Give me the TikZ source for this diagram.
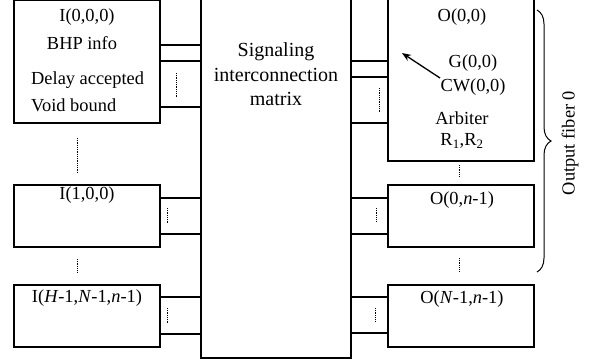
\documentclass[tikz,border=0pt]{standalone}
\usepackage{fontspec}
\setmainfont{Liberation Serif}
\usetikzlibrary{decorations.pathreplacing,arrows.meta}
\begin{document}
\begin{tikzpicture}[x=1pt,y=-1pt,
  box/.style={draw,line width=1.2pt,inner sep=0pt,minimum width=146pt},
  txt/.style={inner sep=0pt,font=\fontsize{18.4}{22}\selectfont},
  mtxt/.style={inner sep=0pt,align=center,font=\fontsize{20}{24.5}\selectfont},
  wire/.style={line width=1.2pt},
  dots/.style={line width=0.7pt,dash pattern=on 0.8pt off 1pt}]
\useasboundingbox (0,0) rectangle (590,364);
\clip (0,0) rectangle (590,364);
% boxes
\node[box,minimum height=122.5pt] (i0) at (87,61.75) {};
\node[box,minimum height=62pt] (i1) at (87,216) {};
\node[box,minimum height=62pt] (ih) at (87,316) {};
\node[draw,line width=1.2pt,inner sep=0pt,minimum width=150pt,minimum height=368pt] (mat) at (276,174) {};
\node[box,minimum height=171pt] (o0) at (461,75.5) {};
\node[box,minimum height=62pt] (on) at (461,216) {};
\node[box,minimum height=62pt] (oN) at (461,316) {};
% texts
\node[txt] (ti0) at (87,17) {I(0,0,0)};
\node[txt] (tbhp) at (82,43) {BHP info};
\node[txt,anchor=west] (tdel) at (31,80) {Delay accepted};
\node[txt,anchor=west] (tvoid) at (31,105) {Void bound};
\node[txt] (ti1) at (87,195) {I(1,0,0)};
\node[txt] (tih) at (87,298) {I(\textit{H}-1,\textit{N}-1,\textit{n}-1)};
\node[mtxt] (tmat) at (276,74.5) {Signaling\\interconnection\\matrix};
\node[txt] (to0) at (462,17) {O(0,0)};
\node[txt] (tg) at (473,63) {G(0,0)};
\node[txt] (tcw) at (473,87) {CW(0,0)};
\node[txt] (tarb) at (462,118) {Arbiter};
\node[txt] (tr) at (462,141) {R\textsubscript{1},R\textsubscript{2}};
\node[txt] (ton) at (462,200) {O(0,\textit{n}-1)};
\node[txt] (toN) at (462,299) {O(\textit{N}-1,\textit{n}-1)};
\node[txt,rotate=90] (tfib) at (570,143) {Output fiber 0};
% arrow
\coordinate (as) at (440,78);
\coordinate (ae) at (402,53);
\draw[line width=1.3pt,-{Stealth[length=9pt,width=7pt]}] (as) -- (ae);
% input wires
\foreach \y in {45,61,107} \draw[wire] (i0.east |- 0,\y) -- (mat.west |- 0,\y);
\foreach \y in {198,234} \draw[wire] (i1.east |- 0,\y) -- (mat.west |- 0,\y);
\foreach \y in {297,334} \draw[wire] (ih.east |- 0,\y) -- (mat.west |- 0,\y);
% output wires
\foreach \y in {61,77,123} \draw[wire] (mat.east |- 0,\y) -- (o0.west |- 0,\y);
\foreach \y in {198,234} \draw[wire] (mat.east |- 0,\y) -- (on.west |- 0,\y);
\foreach \y in {297,333} \draw[wire] (mat.east |- 0,\y) -- (oN.west |- 0,\y);
% dotted
\coordinate (d1a) at (176,73); \coordinate (d1b) at (176,98);
\draw[dots] (d1a) -- (d1b);
\coordinate (d2a) at (77,138); \coordinate (d2b) at (77,173);
\draw[dots] (d2a) -- (d2b);
\coordinate (d3a) at (167,208); \coordinate (d3b) at (167,223);
\draw[dots] (d3a) -- (d3b);
\coordinate (d4a) at (77,259); \coordinate (d4b) at (77,273);
\draw[dots] (d4a) -- (d4b);
\coordinate (d5a) at (167,308); \coordinate (d5b) at (167,323);
\draw[dots] (d5a) -- (d5b);
\coordinate (d6a) at (379,88); \coordinate (d6b) at (379,112);
\draw[dots] (d6a) -- (d6b);
\coordinate (d7a) at (459,165); \coordinate (d7b) at (459,177);
\draw[dots] (d7a) -- (d7b);
\coordinate (d8a) at (376,208); \coordinate (d8b) at (376,222);
\draw[dots] (d8a) -- (d8b);
\coordinate (d9a) at (459,258); \coordinate (d9b) at (459,272);
\draw[dots] (d9a) -- (d9b);
\coordinate (d10a) at (375,308); \coordinate (d10b) at (375,322);
\draw[dots] (d10a) -- (d10b);
% brace
\coordinate (bt) at (537,10);
\coordinate (bb) at (537,272);
\draw[line width=1pt,decorate,decoration={brace,amplitude=14pt}] (bt) -- (bb);
\end{tikzpicture}
\end{document}
